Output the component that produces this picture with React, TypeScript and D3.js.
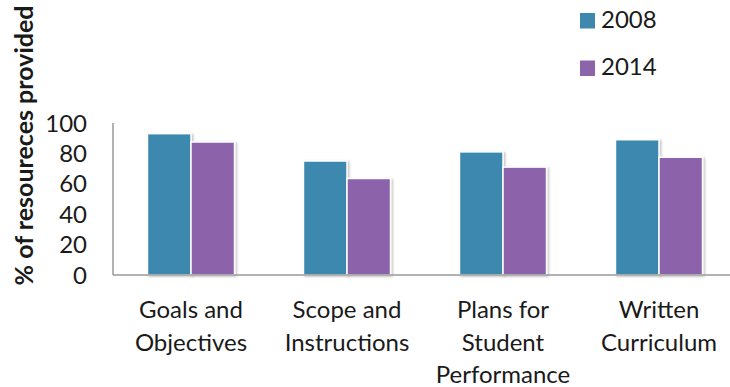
import React from "react";
import * as d3 from "d3";

const categories: string[][] = [
  ["Goals and", "Objectives"],
  ["Scope and", "Instructions"],
  ["Plans for", "Student", "Performance"],
  ["Written", "Curriculum"],
];
const categoryKeys = ["Goals and Objectives", "Scope and Instructions", "Plans for Student Performance", "Written Curriculum"];
const seriesNames = ["2008", "2014"];
const values2008 = [93, 75, 81, 89];
const values2014 = [87.5, 63.5, 71, 77.5];
const yTicks = [0, 20, 40, 60, 80, 100];
const colors = ["#3E88AE", "#8C64AA"];
const yTitle = "% of resoureces provided";

const W = 730;
const H = 387;
const FONT = "Lato, 'Open Sans', sans-serif";
const FS = 24;

export default function App() {
  const x0 = d3.scaleBand<string>().domain(categoryKeys).range([113, 737]).paddingInner(0.442).paddingOuter(0.221);
  const x1 = d3.scaleBand<string>().domain(seriesNames).range([0, x0.bandwidth()]).padding(0);
  const y = d3.scaleLinear().domain([0, 100]).range([275, 123]);
  const seriesVals = [values2008, values2014];

  return (
    <svg width={W} height={H} style={{ position: "absolute", left: 0, top: 0, background: "#fff" }}>
      <defs>
        <filter id="sh" x="-20%" y="-20%" width="140%" height="140%">
          <feDropShadow dx="1.5" dy="1" stdDeviation="1.2" floodColor="#000" floodOpacity="0.25" />
        </filter>
      </defs>
      <rect width={W} height={H} fill="#fff" />
      <text
        transform={`translate(33, ${145.5}) rotate(-90)`}
        textAnchor="middle"
        fontFamily={FONT}
        fontWeight="bold"
        fontSize={25}
        fill="#1a1a1a"
      >
        {yTitle}
      </text>
      {yTicks.map((t) => (
        <text key={t} x={87} y={y(t)} dy="0.36em" textAnchor="end" fontFamily={FONT} fontSize={FS} fill="#1a1a1a">
          {t}
        </text>
      ))}
      {categoryKeys.map((c, i) => (
        <g key={c} transform={`translate(${x0(c)},0)`}>
          {seriesNames.map((s, j) => (
            <rect
              key={s}
              x={x1(s)!}
              y={y(seriesVals[j][i])}
              width={x1.bandwidth()}
              height={y(0) - y(seriesVals[j][i])}
              fill={colors[j]}
              stroke="#fff"
              strokeWidth={1.5}
              filter="url(#sh)"
            />
          ))}
        </g>
      ))}
      <line x1={113} x2={113} y1={y(100)} y2={y(0)} stroke="#999" strokeWidth={1.5} />
      <line x1={113} x2={W} y1={y(0)} y2={y(0)} stroke="#999" strokeWidth={1.5} />
      {categoryKeys.map((c, i) => (
        <text key={c} textAnchor="middle" fontFamily={FONT} fontSize={FS} fill="#1a1a1a">
          {categories[i].map((line, k) => (
            <tspan key={k} x={x0(c)! + x0.bandwidth() / 2} y={318 + k * 32.5}>
              {line}
            </tspan>
          ))}
        </text>
      ))}
      {seriesNames.map((s, j) => (
        <g key={s} transform={`translate(580, ${13 + j * 47.5})`}>
          <rect x={0} y={0} width={15} height={15.5} fill={colors[j]} />
          <text x={21} y={14.5} fontFamily={FONT} fontSize={FS} fill="#1a1a1a">
            {s}
          </text>
        </g>
      ))}
    </svg>
  );
}
